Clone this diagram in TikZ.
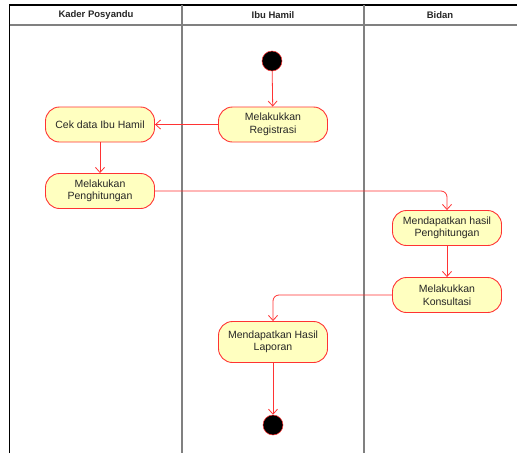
\documentclass[tikz,border=0pt]{standalone}
\usepackage{fontspec}
\setmainfont{Liberation Sans}
\usetikzlibrary{arrows.meta}
\definecolor{actline}{HTML}{FF3333}
\definecolor{actfill}{HTML}{FFFFC0}
\definecolor{lanegray}{HTML}{808080}
\definecolor{txt}{HTML}{262626}
\begin{document}
\begin{tikzpicture}[x=1pt,y=-1pt,
  action/.style={draw=actline,fill=actfill,line width=0.9pt,rounded corners=14pt,
    minimum width=109pt,minimum height=35pt,align=center,font=\fontsize{10.5}{12.5}\selectfont,
    text=txt,inner sep=2pt},
  startnode/.style={circle,fill=black,draw=actline,line width=0.5pt,minimum size=20pt,inner sep=0pt},
  flow/.style={draw=actline,line width=0.8pt,-{Straight Barb[length=5pt,width=9pt]},rounded corners=6pt},
  lanehead/.style={font=\bfseries\fontsize{9.5}{11}\selectfont,text=txt},
  lane/.style={draw=lanegray,line width=1.2pt}]
\useasboundingbox (0,0) rectangle (517,453);
% swimlane frame
\draw[line width=1.2pt] (9.5,453) -- (9.5,5) -- (517,5);
\draw[lane] (9.5,25) -- (517,25);
\draw[lane] (182,5) -- (182,453);
\draw[lane] (364,5) -- (364,453);
\node[lanehead] (h1) at (96,15) {Kader Posyandu};
\node[lanehead] (h2) at (273,15) {Ibu Hamil};
\node[lanehead] (h3) at (440,15) {Bidan};
% activities
\node[startnode] (start) at (272,61) {};
\node[action] (reg) at (273,124.5) {Melakukkan\\Registrasi};
\node[action] (cek) at (100,124.5) {Cek data Ibu Hamil};
\node[action] (hit) at (100,191) {Melakukan\\Penghitungan};
\node[action] (hasil) at (447,228) {Mendapatkan hasil\\Penghitungan};
\node[action] (kons) at (447,295) {Melakukkan\\Konsultasi};
\node[action,minimum height=41pt] (lap) at (273,342) {Mendapatkan Hasil\\Laporan};
\node[startnode] (end) at (273,425) {};
% control flow
\draw[flow] (start) -- (reg);
\draw[flow] (reg) -- (cek);
\draw[flow] (cek) -- (hit);
\draw[flow] (hit.east) -| (hasil.north);
\draw[flow] (hasil) -- (kons);
\draw[flow] (kons.west) -| (lap.north);
\draw[flow] (lap) -- (end);
\end{tikzpicture}
\end{document}
